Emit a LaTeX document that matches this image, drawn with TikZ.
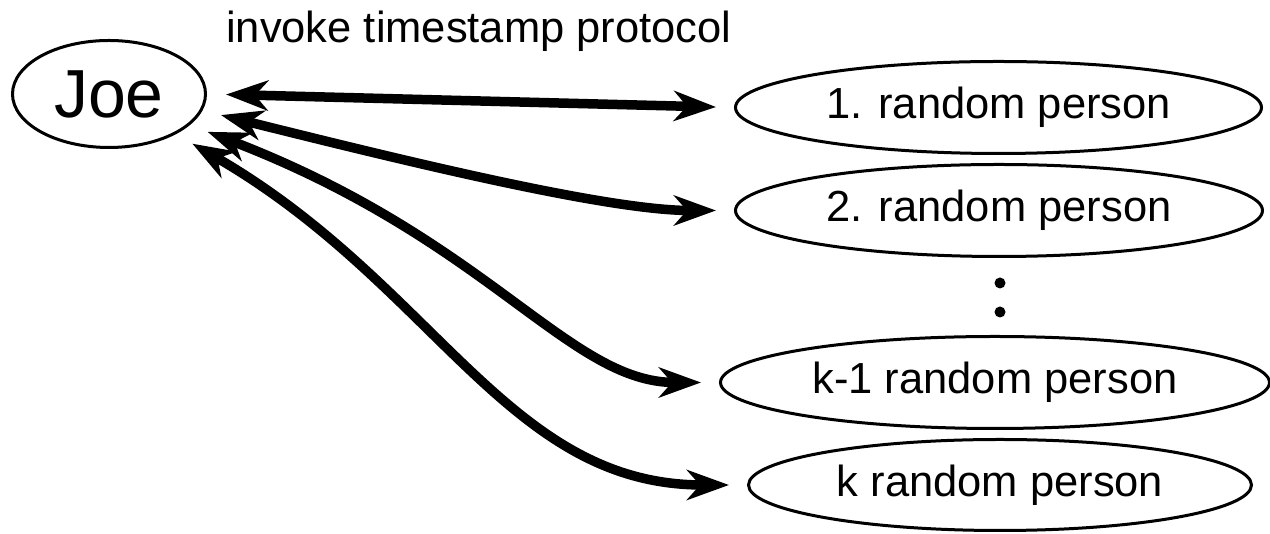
\documentclass[tikz,border=0pt]{standalone}
\usepackage{fontspec}
\setmainfont{Liberation Sans}
\usetikzlibrary{arrows.meta,shapes.geometric}

\tikzset{
  person/.style={ellipse, draw, line width=3pt, inner sep=0pt, font=\fontsize{43.5}{52}\selectfont},
  link/.style={line width=9.5pt,
    {Stealth[length=42pt,width=30pt,inset=13pt]}-{Stealth[length=42pt,width=30pt,inset=13pt]},
    shorten <=19pt, shorten >=18pt},
  gap dot/.style={circle, fill, inner sep=0pt, minimum size=11pt}
}

\begin{document}
\begin{tikzpicture}[x=1pt,y=1pt]
  % canvas
  \fill[white] (0,0) rectangle (1270,534);
  \useasboundingbox (0,0) rectangle (1270,534);

  % caller
  \node[person, minimum width=193pt, minimum height=107pt,
        font=\fontsize{68}{80}\selectfont] (joe) at (109,440) {Joe};

  % heading
  \node[anchor=base west, inner sep=0pt, font=\fontsize{43.5}{52}\selectfont]
       (title) at (226,491) {invoke timestamp protocol};

  % witnesses
  \node[person, minimum width=526pt, minimum height=92pt] (p1)  at (998.5,426.5) {1. random person};
  \node[person, minimum width=527pt, minimum height=92pt] (p2)  at (999,323.5) {2. random person};
  \node[gap dot] (d1) at (1000,251) {};
  \node[gap dot] (d2) at (1000,222) {};
  \node[person, minimum width=549pt, minimum height=92pt] (pk1) at (995,151.5) {k-1 random person};
  \node[person, minimum width=503pt, minimum height=91pt] (pk)  at (1000,49) {k random person};

  % two-way links
  \draw[link] (joe.east) -- (p1.west);
  \draw[link] (joe.-10) .. controls +(-14:206) and +(180:127) .. (p2.west);
  \draw[link] (joe.-21) .. controls +(-21:320) and +(180:150) .. (pk1.west);
  \draw[link] (joe.-31) .. controls +(-30:300) and +(180:240) .. (pk.west);
\end{tikzpicture}
\end{document}
